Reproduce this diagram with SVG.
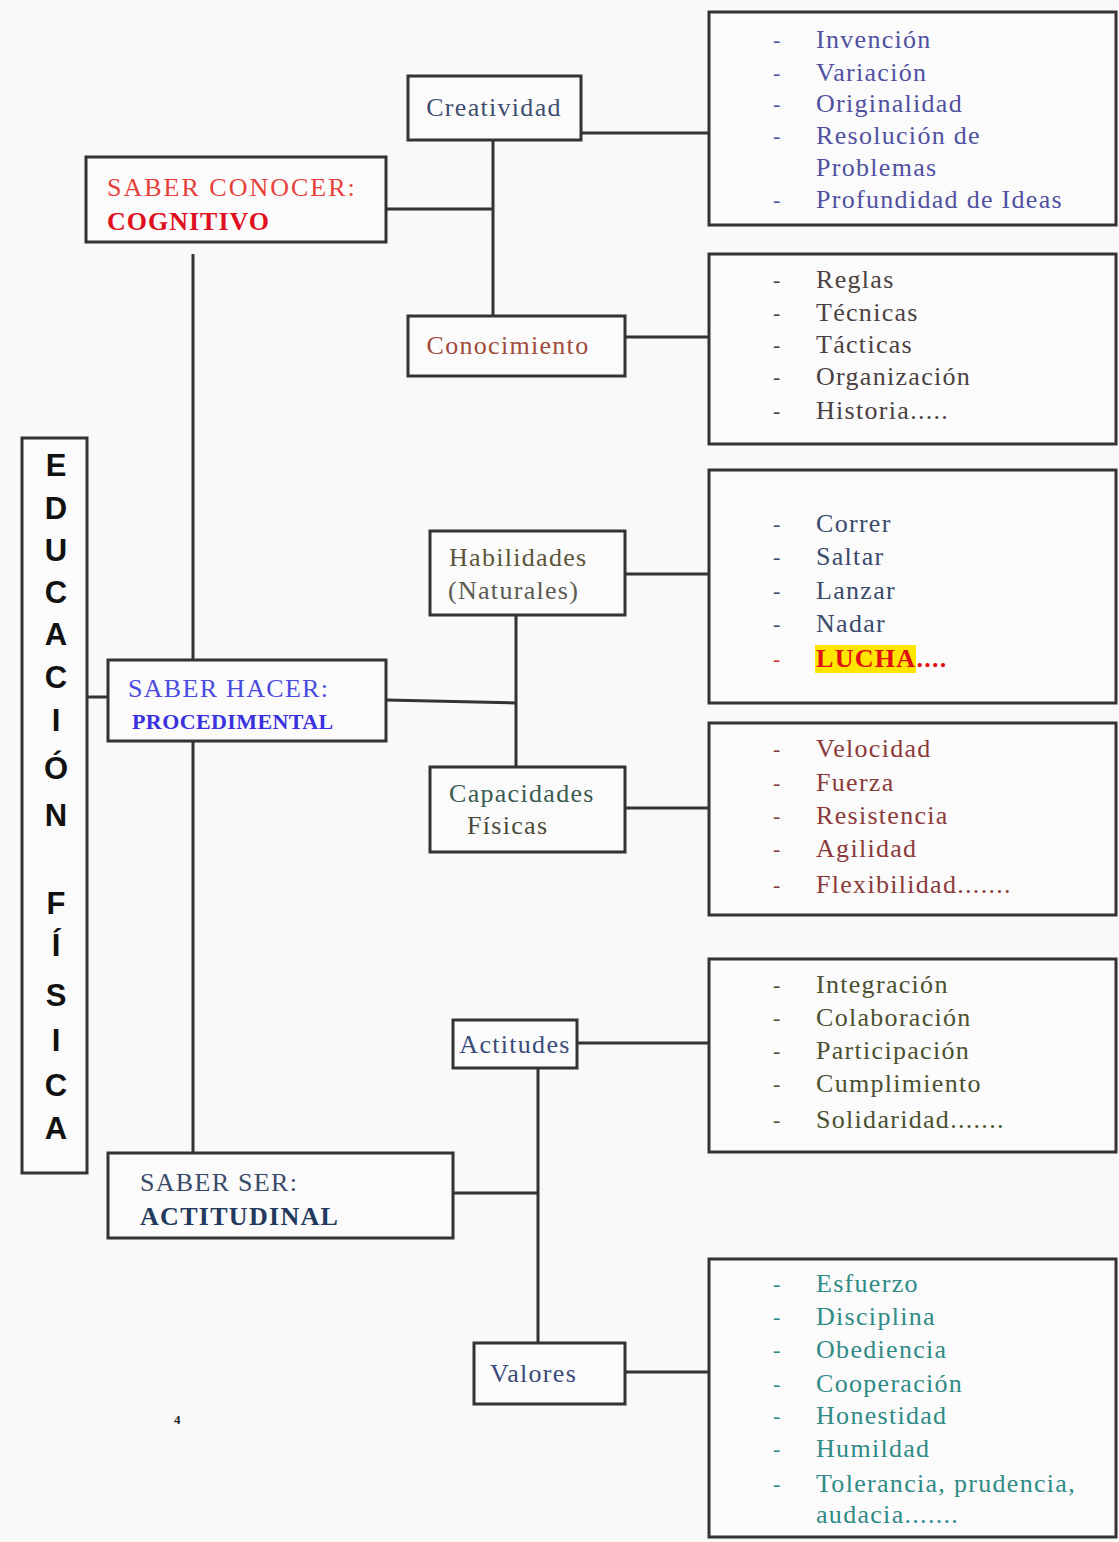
<svg xmlns="http://www.w3.org/2000/svg" width="1119" height="1542" viewBox="0 0 1119 1542">
<style>
.bx{fill:#fbfbfb;stroke:#333;stroke-width:3}
.ln{stroke:#333;stroke-width:3;fill:none}
.t{font-family:"Liberation Serif",serif;font-size:26px;letter-spacing:1.3px}
.u{letter-spacing:2px}
.d{font-family:"Liberation Serif",serif;font-size:22px}
.big{font-family:"Liberation Sans",sans-serif;font-size:31px;font-weight:bold;fill:#111;text-anchor:middle}
.b{font-weight:bold}
</style>
<rect x="0" y="0" width="1119" height="1542" fill="#f9f9f9"/>
<g id="connectors">
<line class="ln" x1="87" y1="697" x2="108" y2="697"/>
<line class="ln" x1="193" y1="254" x2="193" y2="660"/>
<line class="ln" x1="193" y1="741" x2="193" y2="1153"/>
<line class="ln" x1="386" y1="209" x2="493" y2="209"/>
<line class="ln" x1="493" y1="140" x2="493" y2="316"/>
<line class="ln" x1="581" y1="133" x2="709" y2="133"/>
<line class="ln" x1="625" y1="337" x2="709" y2="337"/>
<line class="ln" x1="386" y1="700" x2="516" y2="703"/>
<line class="ln" x1="516" y1="615" x2="516" y2="767"/>
<line class="ln" x1="625" y1="574" x2="709" y2="574"/>
<line class="ln" x1="625" y1="808" x2="709" y2="808"/>
<line class="ln" x1="453" y1="1193" x2="538" y2="1193"/>
<line class="ln" x1="538" y1="1068" x2="538" y2="1343"/>
<line class="ln" x1="577" y1="1043" x2="709" y2="1043"/>
<line class="ln" x1="625" y1="1372" x2="709" y2="1372"/>
</g>
<g id="educacion-fisica">
<rect class="bx" x="22" y="438" width="65" height="735"/>
<text class="big" x="56" y="476">E</text>
<text class="big" x="56" y="519">D</text>
<text class="big" x="56" y="561">U</text>
<text class="big" x="56" y="603">C</text>
<text class="big" x="56" y="645">A</text>
<text class="big" x="56" y="688">C</text>
<text class="big" x="56" y="731">I</text>
<text class="big" x="56" y="779">Ó</text>
<text class="big" x="56" y="826">N</text>
<text class="big" x="56" y="914">F</text>
<text class="big" x="56" y="956">Í</text>
<text class="big" x="56" y="1006">S</text>
<text class="big" x="56" y="1051">I</text>
<text class="big" x="56" y="1096">C</text>
<text class="big" x="56" y="1139">A</text>
</g>
<g id="saber-conocer">
<rect class="bx" x="86" y="157" width="300" height="85"/>
<text class="t u" x="107" y="196" fill="#e8403a">SABER CONOCER:</text>
<text class="t b" x="107" y="230" fill="#e01020" style="letter-spacing:1px">COGNITIVO</text>
</g>
<g id="saber-hacer">
<rect class="bx" x="108" y="660" width="278" height="81"/>
<text class="t" x="128" y="697" fill="#4a4ae0">SABER HACER:</text>
<text class="t b" x="132" y="729" fill="#3a30e0" style="font-size:22px;letter-spacing:0.4px">PROCEDIMENTAL</text>
</g>
<g id="saber-ser">
<rect class="bx" x="108" y="1153" width="345" height="85"/>
<text class="t" x="140" y="1191" fill="#3a4a6a">SABER SER:</text>
<text class="t b" x="140" y="1225" fill="#23395d">ACTITUDINAL</text>
</g>
<g id="creatividad">
<rect class="bx" x="408" y="76" width="173" height="64"/>
<text class="t" x="494" y="116" fill="#3e4e70" text-anchor="middle">Creatividad</text>
</g>
<g id="conocimiento">
<rect class="bx" x="408" y="316" width="217" height="60"/>
<text class="t" x="508" y="354" fill="#a04a3a" text-anchor="middle">Conocimiento</text>
</g>
<g id="habilidades">
<rect class="bx" x="430" y="531" width="195" height="84"/>
<text class="t" x="449" y="566" fill="#5a5538">Habilidades</text>
<text class="t" x="448" y="599" fill="#5a5a50">(Naturales)</text>
</g>
<g id="capacidades">
<rect class="bx" x="430" y="767" width="195" height="85"/>
<text class="t" x="449" y="802" fill="#3a5a50">Capacidades</text>
<text class="t" x="467" y="834" fill="#4a4a3a">Físicas</text>
</g>
<g id="actitudes">
<rect class="bx" x="453" y="1020" width="124" height="48"/>
<text class="t" x="515" y="1053" fill="#3a4a7a" text-anchor="middle">Actitudes</text>
</g>
<g id="valores">
<rect class="bx" x="474" y="1343" width="151" height="61"/>
<text class="t" x="490" y="1382" fill="#3a4a7a">Valores</text>
</g>
<g id="list-creatividad" fill="#5050a0">
<rect class="bx" x="709" y="12" width="407" height="213"/>
<text class="d" x="773" y="47">-</text><text class="t" x="816" y="48">Invención</text>
<text class="d" x="773" y="80">-</text><text class="t" x="816" y="81">Variación</text>
<text class="d" x="773" y="111">-</text><text class="t" x="816" y="112">Originalidad</text>
<text class="d" x="773" y="143">-</text><text class="t" x="816" y="144">Resolución de</text>
<text class="t" x="816" y="176">Problemas</text>
<text class="d" x="773" y="207">-</text><text class="t" x="816" y="208">Profundidad de Ideas</text>
</g>
<g id="list-conocimiento" fill="#4a4040">
<rect class="bx" x="709" y="254" width="407" height="190"/>
<text class="d" x="773" y="287">-</text><text class="t" x="816" y="288">Reglas</text>
<text class="d" x="773" y="320">-</text><text class="t" x="816" y="321">Técnicas</text>
<text class="d" x="773" y="352">-</text><text class="t" x="816" y="353">Tácticas</text>
<text class="d" x="773" y="384">-</text><text class="t" x="816" y="385">Organización</text>
<text class="d" x="773" y="418">-</text><text class="t" x="816" y="419">Historia.....</text>
</g>
<g id="list-habilidades" fill="#3a4a6a">
<rect class="bx" x="709" y="470" width="407" height="233"/>
<text class="d" x="773" y="531">-</text><text class="t" x="816" y="532">Correr</text>
<text class="d" x="773" y="564">-</text><text class="t" x="816" y="565">Saltar</text>
<text class="d" x="773" y="598">-</text><text class="t" x="816" y="599">Lanzar</text>
<text class="d" x="773" y="631">-</text><text class="t" x="816" y="632">Nadar</text>
<rect x="815" y="645" width="101" height="28" fill="#ffe600"/>
<text class="d" x="773" y="666" fill="#e03030">-</text><text class="t b" x="816" y="667" fill="#e01010">LUCHA....</text>
</g>
<g id="list-capacidades" fill="#8a3a3a">
<rect class="bx" x="709" y="723" width="407" height="192"/>
<text class="d" x="773" y="756">-</text><text class="t" x="816" y="757">Velocidad</text>
<text class="d" x="773" y="790">-</text><text class="t" x="816" y="791">Fuerza</text>
<text class="d" x="773" y="823">-</text><text class="t" x="816" y="824">Resistencia</text>
<text class="d" x="773" y="856">-</text><text class="t" x="816" y="857">Agilidad</text>
<text class="d" x="773" y="892">-</text><text class="t" x="816" y="893">Flexibilidad.......</text>
</g>
<g id="list-actitudes" fill="#4a5030">
<rect class="bx" x="709" y="959" width="407" height="193"/>
<text class="d" x="773" y="992">-</text><text class="t" x="816" y="993">Integración</text>
<text class="d" x="773" y="1025">-</text><text class="t" x="816" y="1026">Colaboración</text>
<text class="d" x="773" y="1058">-</text><text class="t" x="816" y="1059">Participación</text>
<text class="d" x="773" y="1091">-</text><text class="t" x="816" y="1092">Cumplimiento</text>
<text class="d" x="773" y="1127">-</text><text class="t" x="816" y="1128">Solidaridad.......</text>
</g>
<g id="list-valores" fill="#2f8a86">
<rect class="bx" x="709" y="1259" width="407" height="278"/>
<text class="d" x="773" y="1291">-</text><text class="t" x="816" y="1292">Esfuerzo</text>
<text class="d" x="773" y="1324">-</text><text class="t" x="816" y="1325">Disciplina</text>
<text class="d" x="773" y="1357">-</text><text class="t" x="816" y="1358">Obediencia</text>
<text class="d" x="773" y="1391">-</text><text class="t" x="816" y="1392">Cooperación</text>
<text class="d" x="773" y="1423">-</text><text class="t" x="816" y="1424">Honestidad</text>
<text class="d" x="773" y="1456">-</text><text class="t" x="816" y="1457">Humildad</text>
<text class="d" x="773" y="1491">-</text><text class="t" x="816" y="1492">Tolerancia, prudencia,</text>
<text class="t" x="816" y="1523">audacia.......</text>
</g>
<text x="174" y="1424" font-family="Liberation Serif,serif" font-size="13" font-weight="bold" fill="#222">4</text>
</svg>
